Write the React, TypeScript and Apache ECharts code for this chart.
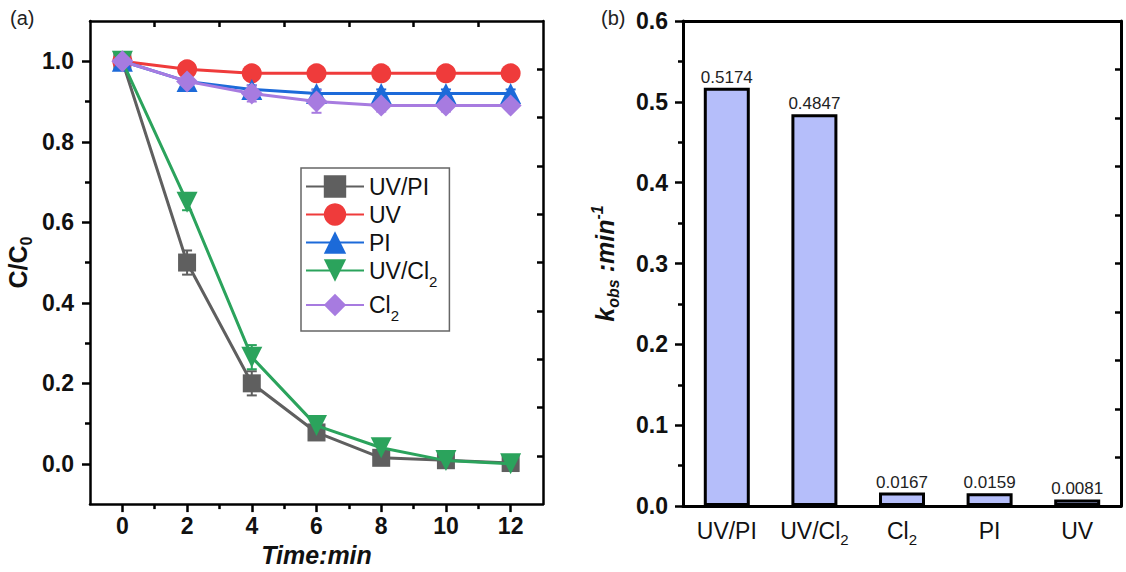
import React, { useEffect, useRef } from "react";
import * as echarts from "echarts";

// ---------- data ----------
const time = [0, 2, 4, 6, 8, 10, 12];
const seriesNames = ["UV/PI", "UV", "PI", "UV/Cl2", "Cl2"];
const uvPI = [1.0, 0.5, 0.2, 0.078, 0.015, 0.009, 0.002];
const uv = [1.0, 0.98, 0.97, 0.97, 0.97, 0.97, 0.97];
const pi = [1.0, 0.95, 0.93, 0.92, 0.92, 0.92, 0.92];
const uvCl2 = [1.0, 0.65, 0.265, 0.095, 0.04, 0.008, 0.0];
const cl2 = [1.0, 0.95, 0.92, 0.9, 0.89, 0.89, 0.89];
const uvPIErr = [0.01, 0.03, 0.03, 0.015, 0.01, 0.01, 0.01];
const uvErr = [0.005, 0.01, 0.01, 0.01, 0.01, 0.01, 0.01];
const piErr = [0.01, 0.01, 0.01, 0.01, 0.01, 0.01, 0.01];
const uvCl2Err = [0.01, 0.02, 0.03, 0.01, 0.01, 0.01, 0.01];
const cl2Err = [0.01, 0.015, 0.02, 0.028, 0.015, 0.015, 0.01];

const xMajorTicks = [0, 2, 4, 6, 8, 10, 12];
const xMinorTicks = [1, 3, 5, 7, 9, 11];
const yMajorTicks = [0, 0.2, 0.4, 0.6, 0.8, 1.0];
const yMinorTicks = [0.1, 0.3, 0.5, 0.7, 0.9];
const yRightTicks = [0.02, 0.14, 0.26, 0.38, 0.5, 0.62, 0.74, 0.86, 0.98];
const xTopTicks = [1, 3, 5, 7, 9, 11];

const categories = ["UV/PI", "UV/Cl2", "Cl2", "PI", "UV"];
const kobs = [0.5174, 0.4847, 0.0167, 0.0159, 0.0081];
const kRightTicks = [0.06, 0.12, 0.18, 0.24, 0.3, 0.36, 0.42, 0.48, 0.54];

const FONT = 'Arial, "Liberation Sans", sans-serif';
const colors = ["#5f5f5f", "#ef3b3b", "#1c6ad9", "#2ba35c", "#a77be0"];
const symbols = ["rect", "circle", "triangle", "triangle", "diamond"];
const symbolRot = [0, 0, 0, 180, 0];
const symbolSizes = [18, 20, 21, 21, 22];

const subFmt = (name: string) =>
  name.endsWith("2") ? `{n|${name.slice(0, -1)}}{s|2}` : `{n|${name}}`;

export default function App() {
  const ref = useRef<HTMLDivElement>(null);
  useEffect(() => {
    const chart = echarts.init(ref.current!, null, { renderer: "svg" });
    const values = [uvPI, uv, pi, uvCl2, cl2];
    const errs = [uvPIErr, uvErr, piErr, uvCl2Err, cl2Err];
    const black = "#000";
    const hidden = {
      axisLine: { show: false, onZero: false },
      axisLabel: { show: false },
      splitLine: { show: false },
    };

    const lineSeries: any[] = [];
    seriesNames.forEach((name, i) => {
      lineSeries.push({
        type: "custom",
        name: name + "_err",
        xAxisIndex: 0,
        yAxisIndex: 0,
        data: time.map((t, j) => [t, values[i][j], errs[i][j]]),
        encode: { x: 0, y: 1 },
        z: 1,
        renderItem: (params: any, api: any) => {
          const x = api.value(0);
          const y = api.value(1);
          const e = api.value(2);
          const top = api.coord([x, y + e]);
          const bot = api.coord([x, y - e]);
          const st = { stroke: colors[i], lineWidth: 2 };
          return {
            type: "group",
            children: [
              { type: "line", shape: { x1: top[0], y1: top[1], x2: bot[0], y2: bot[1] }, style: st },
              { type: "line", shape: { x1: top[0] - 5, y1: top[1], x2: top[0] + 5, y2: top[1] }, style: st },
              { type: "line", shape: { x1: bot[0] - 5, y1: bot[1], x2: bot[0] + 5, y2: bot[1] }, style: st },
            ],
          };
        },
      });
    });
    seriesNames.forEach((name, i) => {
      lineSeries.push({
        type: "line",
        name,
        xAxisIndex: 0,
        yAxisIndex: 0,
        data: time.map((t, j) => [t, values[i][j]]),
        symbol: symbols[i],
        symbolRotate: symbolRot[i],
        symbolSize: symbolSizes[i],
        lineStyle: { color: colors[i], width: 3 },
        itemStyle: { color: colors[i] },
        z: 2 + i,
      });
    });

    const tickStyle = { color: black, width: 2.5 };
    const lineStyle = { color: black, width: 2.5 };

    const option: any = {
      animation: false,
      textStyle: { fontFamily: FONT },
      graphic: [
        { type: "text", left: 10, top: 8, style: { text: "(a)", fontSize: 20, fontFamily: FONT, fill: "#222" } },
        { type: "text", left: 601, top: 8, style: { text: "(b)", fontSize: 20, fontFamily: FONT, fill: "#222" } },
      ],
      grid: [
        { left: 90, top: 21, width: 453, height: 485 },
        { left: 683, top: 21, width: 438, height: 485 },
      ],
      legend: {
        data: seriesNames,
        orient: "vertical",
        left: 301,
        top: 168,
        itemWidth: 58,
        itemHeight: 28,
        itemGap: 5,
        selectedMode: false,
        borderColor: "#666",
        borderWidth: 1.5,
        padding: [7, 12, 8, 4],
        formatter: subFmt,
        textStyle: {
          fontFamily: FONT,
          rich: {
            n: { fontSize: 23, color: "#111", fontFamily: FONT, lineHeight: 24, verticalAlign: "middle" },
            s: { fontSize: 15, color: "#111", fontFamily: FONT, verticalAlign: "bottom", lineHeight: 15, padding: [0, 0, -6, 0] },
          },
        },
      },
      xAxis: [
        {
          gridIndex: 0,
          type: "value",
          position: "bottom",
          min: -1,
          max: 13,
          axisLine: { onZero: false, lineStyle },
          axisTick: { customValues: xMajorTicks, length: 8, lineStyle: tickStyle },
          axisLabel: { customValues: xMajorTicks, fontSize: 23, fontWeight: "bold", color: "#111", margin: 10, fontFamily: FONT },
          splitLine: { show: false },
          name: "Time:min",
          nameLocation: "middle",
          nameGap: 36,
          nameTextStyle: { fontSize: 25, fontWeight: "bold", fontStyle: "italic", color: "#111", fontFamily: FONT },
        },
        {
          gridIndex: 0,
          type: "value",
          position: "bottom",
          min: -1,
          max: 13,
          ...hidden,
          axisTick: { customValues: xMinorTicks, length: 5, lineStyle: tickStyle },
        },
        {
          gridIndex: 0,
          type: "value",
          position: "top",
          min: -1,
          max: 13,
          axisLine: { onZero: false, lineStyle },
          axisLabel: { show: false },
          splitLine: { show: false },
          axisTick: { inside: true, customValues: xTopTicks, length: 6, lineStyle: tickStyle },
        },
        {
          gridIndex: 1,
          type: "category",
          position: "bottom",
          data: categories,
          axisLine: { onZero: false, lineStyle: { color: black, width: 3 } },
          axisTick: { alignWithLabel: true, length: 8, lineStyle: tickStyle },
          axisLabel: {
            interval: 0,
            margin: 12,
            formatter: subFmt,
            rich: {
              n: { fontSize: 23, color: "#111", fontFamily: FONT, lineHeight: 26, verticalAlign: "middle" },
              s: { fontSize: 15, color: "#111", fontFamily: FONT, verticalAlign: "bottom", lineHeight: 15, padding: [0, 0, -3, 0] },
            },
          },
        },
        {
          gridIndex: 1,
          type: "category",
          position: "bottom",
          data: categories,
          ...hidden,
          axisTick: { length: 5, lineStyle: tickStyle },
        },
        {
          gridIndex: 1,
          type: "category",
          position: "top",
          data: categories,
          axisLine: { onZero: false, lineStyle: { color: black, width: 3 } },
          axisLabel: { show: false },
          splitLine: { show: false },
          axisTick: { inside: true, length: 5, lineStyle: tickStyle },
        },
        {
          gridIndex: 1,
          type: "category",
          position: "top",
          data: categories,
          ...hidden,
          axisTick: { inside: true, alignWithLabel: true, length: 6, lineStyle: tickStyle },
        },
      ],
      yAxis: [
        {
          gridIndex: 0,
          type: "value",
          position: "left",
          min: -0.1,
          max: 1.1,
          axisLine: { show: true, onZero: false, lineStyle },
          axisTick: { show: true, customValues: yMajorTicks, length: 8, lineStyle: tickStyle },
          axisLabel: {
            customValues: yMajorTicks,
            formatter: (v: number) => v.toFixed(1),
            fontSize: 23,
            fontWeight: "bold",
            color: "#111",
            margin: 16,
            fontFamily: FONT,
          },
          splitLine: { show: false },
          name: "{a|C/C}{b|0}",
          nameLocation: "middle",
          nameRotate: 90,
          nameGap: 56,
          nameTextStyle: {
            rich: {
              a: { fontSize: 25, fontWeight: "bold", color: "#111", fontFamily: FONT, lineHeight: 32, verticalAlign: "middle" },
              b: { fontSize: 16, fontWeight: "bold", color: "#111", fontFamily: FONT, verticalAlign: "bottom", lineHeight: 16 },
            },
          },
        },
        {
          gridIndex: 0,
          type: "value",
          position: "left",
          min: -0.1,
          max: 1.1,
          ...hidden,
          axisTick: { show: true, customValues: yMinorTicks, length: 5, lineStyle: tickStyle },
        },
        {
          gridIndex: 0,
          type: "value",
          position: "right",
          min: -0.1,
          max: 1.1,
          axisLine: { show: true, onZero: false, lineStyle },
          axisLabel: { show: false },
          splitLine: { show: false },
          axisTick: { show: true, inside: true, customValues: yRightTicks, length: 6, lineStyle: tickStyle },
        },
        {
          gridIndex: 1,
          type: "value",
          position: "left",
          min: 0,
          max: 0.6,
          interval: 0.1,
          axisLine: { show: true, onZero: false, lineStyle: { color: black, width: 3 } },
          axisTick: { show: true, length: 8, lineStyle: tickStyle },
          minorTick: { show: true, splitNumber: 2, length: 5, lineStyle: tickStyle },
          axisLabel: {
            formatter: (v: number) => v.toFixed(1),
            fontSize: 23,
            fontWeight: "bold",
            color: "#111",
            margin: 15,
            fontFamily: FONT,
          },
          splitLine: { show: false },
          name: "{k|k}{s|obs}{k| :min}{p|-1}",
          nameLocation: "middle",
          nameRotate: 90,
          nameGap: 62,
          nameTextStyle: {
            rich: {
              k: { fontSize: 25, fontWeight: "bold", fontStyle: "italic", color: "#111", fontFamily: FONT, lineHeight: 32, verticalAlign: "middle" },
              s: { fontSize: 16, fontWeight: "bold", fontStyle: "italic", color: "#111", fontFamily: FONT, verticalAlign: "bottom", lineHeight: 16 },
              p: { fontSize: 16, fontWeight: "bold", fontStyle: "italic", color: "#111", fontFamily: FONT, verticalAlign: "top", lineHeight: 16 },
            },
          },
        },
        {
          gridIndex: 1,
          type: "value",
          position: "right",
          min: 0,
          max: 0.6,
          interval: 0.1,
          axisLine: { show: true, onZero: false, lineStyle: { color: black, width: 3 } },
          axisLabel: { show: false },
          splitLine: { show: false },
          axisTick: { show: true, inside: true, customValues: kRightTicks, length: 6, lineStyle: tickStyle },
        },
      ],
      series: [
        ...lineSeries,
        {
          type: "bar",
          name: "kobs",
          xAxisIndex: 3,
          yAxisIndex: 3,
          data: kobs,
          barWidth: 46,
          itemStyle: { color: "#b5befa", borderColor: "#000", borderWidth: 3 },
          label: {
            show: true,
            position: "top",
            distance: 2,
            fontSize: 17,
            color: "#222",
            fontFamily: FONT,
            formatter: (p: any) => Number(p.value).toFixed(4),
          },
        },
      ],
    };
    chart.setOption(option);
    return () => chart.dispose();
  }, []);
  return (
    <div
      ref={ref}
      style={{ position: "fixed", left: 0, top: 0, width: 1126, height: 572, background: "#fff" }}
    />
  );
}
